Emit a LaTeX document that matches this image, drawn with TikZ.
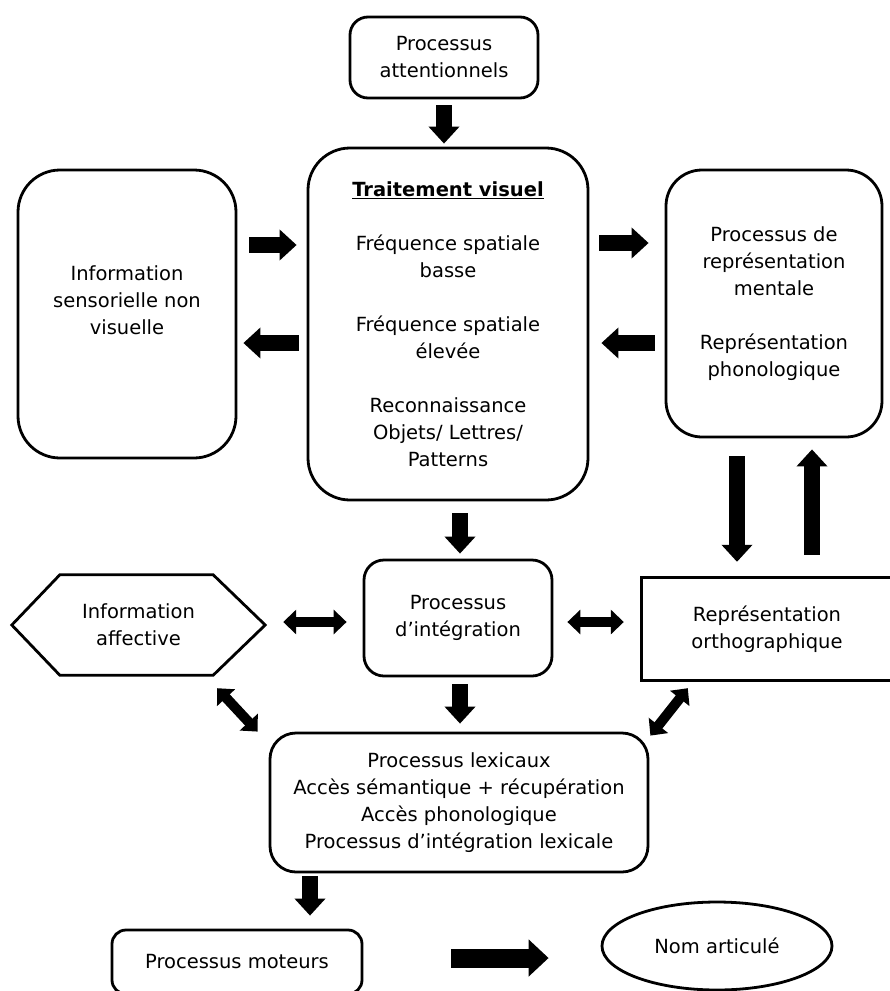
\documentclass[tikz,border=0pt]{standalone}
\usepackage{fontspec}
\setmainfont{DejaVu Sans}
\usetikzlibrary{arrows.meta,shapes.geometric}
\begin{document}
\begin{tikzpicture}[x=1pt,y=-1pt,
  every node/.style={font=\fontsize{19.5}{27}\selectfont, align=center, inner sep=0pt},
  rbox/.style={draw, line width=2.8pt, rounded corners=#1},
  rbox/.default=20pt,
  bigarr/.style={line width=16pt, -{Triangle[width=30pt,length=17pt]}},
  bigerarr/.style={line width=19pt, -{Triangle[width=36pt,length=20pt]}},
  dblarr/.style={line width=10pt, {Triangle[width=24pt,length=13pt]}-{Triangle[width=24pt,length=13pt]}}
]
\useasboundingbox (0,0) rectangle (890,991);
\clip (0,0) rectangle (890,991);
\fill[white] (0,0) rectangle (890,991);

% boxes
\node[rbox=18pt, minimum width=188pt, minimum height=81pt] (att) at (444,57.5) {Processus\\attentionnels};
\node[rbox=42pt, minimum width=280pt, minimum height=352pt] (tv) at (448,324)
  {\underline{\textbf{Traitement visuel}}\\[27pt]Fréquence spatiale\\basse\\[27pt]Fréquence spatiale\\élevée\\[27pt]Reconnaissance\\Objets/ Lettres/\\Patterns};
\node[rbox=42pt, minimum width=218pt, minimum height=288pt] (isnv) at (127,314) {};
\node (isnvt) at (127,300) {Information\\sensorielle non\\visuelle};
\node[rbox=36pt, minimum width=216pt, minimum height=267pt] (prm) at (774,303.5)
  {Processus de\\représentation\\mentale\\[27pt]Représentation\\phonologique};
\node[rbox=20pt, minimum width=188pt, minimum height=116pt] (pint) at (458,618) {Processus\\d’intégration};
\node[minimum width=253pt, minimum height=100pt] (aff) at (138.5,625) {Information\\affective};
\draw[line width=2.8pt, line join=miter] (aff.west) -- ([xshift=48pt]aff.north west) -- ([xshift=-52pt]aff.north east)
  -- (aff.east) -- ([xshift=-52pt]aff.south east) -- ([xshift=48pt]aff.south west) -- cycle;
\node[minimum width=300pt, minimum height=102pt] (orth) at (792,629) {};
\draw[line width=2.8pt] (orth.north east) -- (orth.north west) -- (orth.south west) -- (orth.south east);
\node (ortht) at (767,629) {Représentation\\orthographique};
\node[rbox=26pt, minimum width=378pt, minimum height=139pt] (lex) at (459,802.5)
  {Processus lexicaux\\Accès sémantique + récupération\\Accès phonologique\\Processus d’intégration lexicale};
\node[rbox=14pt, minimum width=250pt, minimum height=64pt] (mot) at (237,962) {Processus moteurs};
\node[draw, ellipse, line width=2.8pt, minimum width=230pt, minimum height=88pt] (nom) at (717,946) {Nom articulé};

% arrows
\draw[bigarr, shorten <=6pt, shorten >=3pt] (att.south) -- (444,0 |- tv.north);
\draw[bigarr, shorten <=12pt, shorten >=10pt] (isnv.east |- 0,245) -- (tv.west |- 0,245);
\draw[bigarr, shorten <=8pt, shorten >=6pt] (tv.west |- 0,343) -- (isnv.east |- 0,343);
\draw[bigarr, shorten <=10pt, shorten >=16pt] (tv.east |- 0,243) -- (prm.west |- 0,243);
\draw[bigarr, shorten <=10pt, shorten >=12pt] (prm.west |- 0,343) -- (tv.east |- 0,343);
\draw[bigarr, shorten <=12pt, shorten >=5pt] (460,0 |- tv.south) -- (460,0 |- pint.north);
\draw[bigarr, shorten <=18pt, shorten >=16pt] (737,0 |- prm.south) -- (737,0 |- orth.north);
\draw[bigarr, shorten <=23pt, shorten >=11pt] (812,0 |- orth.north) -- (812,0 |- prm.south);
\draw[dblarr, shorten <=18pt, shorten >=16pt] (aff.east |- 0,622) -- (pint.west |- 0,622);
\draw[dblarr, shorten <=14pt, shorten >=18pt] (pint.east |- 0,622) -- (orth.west |- 0,622);
\draw[bigarr, shorten <=7pt, shorten >=8pt] (460,0 |- pint.south) -- (460,0 |- lex.north);
\draw[dblarr] ([xshift=-48pt,yshift=-13pt]aff.south east) -- ([xshift=-11pt]lex.north west);
\draw[dblarr] ([xshift=46pt,yshift=-8pt]orth.south west) -- ([xshift=1pt,yshift=-4pt]lex.north east);
\draw[bigarr, shorten <=3pt, shorten >=13pt] (310,0 |- lex.south) -- (310,0 |- mot.north);
\draw[bigerarr, shorten <=88pt, shorten >=52pt] (mot.east |- 0,958) -- (nom.west |- 0,958);
\end{tikzpicture}
\end{document}
